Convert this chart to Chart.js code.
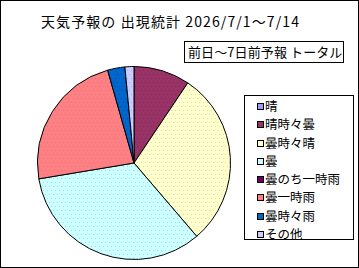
<!DOCTYPE html>
<html>
<head>
<meta charset="utf-8">
<script src="https://cdn.jsdelivr.net/npm/chart.js@4/dist/chart.umd.min.js"></script>
<style>
    body { margin: 0; background: #fff; font-family: "Noto Sans CJK JP", sans-serif; }
    #frame { position: relative; width: 359px; height: 268px; border: 1px solid #000; box-sizing: border-box; overflow: hidden; }
    #title { position: absolute; left: 2px; width: 335px; top: 11px; text-align: center; font-size: 14px; line-height: 18px; letter-spacing: 1.1px; white-space: nowrap; }
    #subtitle { position: absolute; left: 183px; top: 40px; width: 160px; height: 22px; border: 1px solid #000; box-sizing: border-box; font-size: 13px; line-height: 20px; padding-left: 3px; letter-spacing: 0.1px; white-space: nowrap; }
    #pieWrap { position: absolute; left: 36px; top: 65px; width: 194px; height: 194px; }
    #legend { position: absolute; left: 243px; top: 94px; width: 110px; height: 145px; border: 1px solid #000; box-sizing: border-box; }
    .item { position: absolute; left: 12px; height: 18px; font-size: 12.5px; line-height: 18px; white-space: nowrap; }
    .swatch { display: inline-block; width: 5px; height: 5px; border: 1px solid #000; margin-right: 1px; vertical-align: 1px; }
</style>
</head>
<body>
<div id="frame">
    <div id="title">天気予報の 出現統計 2026/7/1～7/14</div>
    <div id="subtitle">前日～7日前予報 トータル</div>
    <div id="pieWrap"><canvas id="pieChart"></canvas></div>
    <div id="legend"></div>
</div>
<script>
// Categories (weather forecast types) and their share
const categories = ['晴', '晴時々曇', '曇時々晴', '曇', '曇のち一時雨', '曇一時雨', '曇時々雨', 'その他'];
const shares = [0, 9.4, 29.3, 33.6, 0, 23.2, 2.9, 1.5];
const colors = ['#9999FF', '#993366', '#FFFFCC', '#CCFFFF', '#660066', '#FF8080', '#0066CC', '#CCCCFF'];
const dotColors = ['#7777DD', '#7A2A60', '#D8E0B0', '#A8D8E8', '#440044', '#E070A0', '#0050A8', '#A8A8E0'];

// Dotted fill like the old dithered office chart
function dotted(base, dot) {
    const c = document.createElement('canvas');
    c.width = 8; c.height = 8;
    const g = c.getContext('2d');
    g.fillStyle = base;
    g.fillRect(0, 0, 8, 8);
    g.fillStyle = dot;
    [[0, 0], [4, 0], [2, 4], [6, 4]].forEach(p => g.fillRect(p[0], p[1], 1, 1));
    return g.createPattern(c, 'repeat');
}

const ctx = document.getElementById('pieChart').getContext('2d');
const pieChart = new Chart(ctx, {
    type: 'pie',
    data: {
        labels: categories,
        datasets: [{
            data: shares,
            backgroundColor: colors.map((c, i) => dotted(c, dotColors[i])),
            borderColor: '#000',
            borderWidth: 1
        }]
    },
    options: {
        responsive: true,
        maintainAspectRatio: false,
        animation: false,
        layout: { padding: 0 },
        plugins: {
            legend: { display: false },
            tooltip: { enabled: false }
        }
    }
});

// Build the boxed legend from the same arrays
const legend = document.getElementById('legend');
categories.forEach((name, i) => {
    const item = document.createElement('div');
    item.className = 'item';
    item.style.top = (1 + i * 18.25) + 'px';
    const sw = document.createElement('span');
    sw.className = 'swatch';
    sw.style.background = colors[i];
    item.appendChild(sw);
    item.appendChild(document.createTextNode(name));
    legend.appendChild(item);
});
</script>
</body>
</html>
